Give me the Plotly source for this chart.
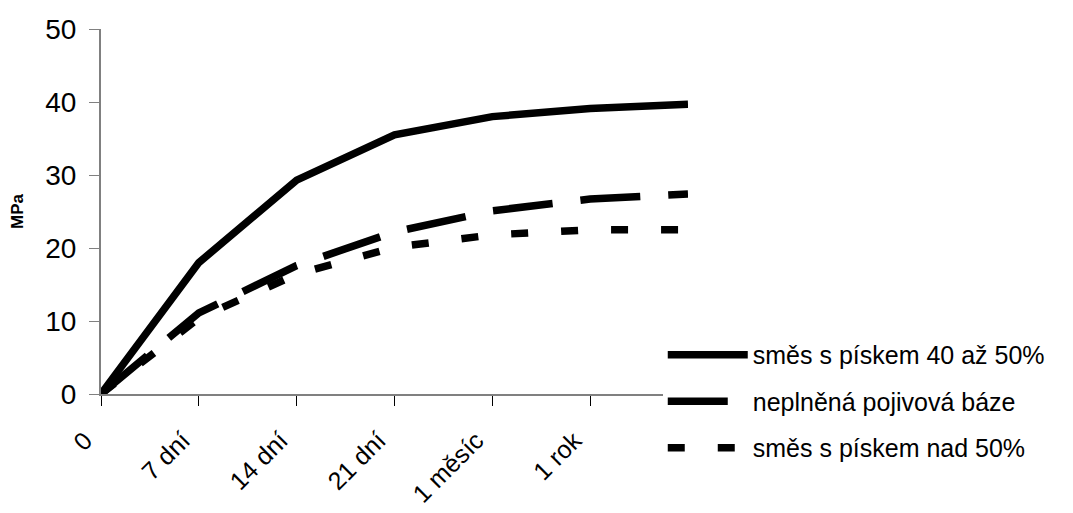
import plotly.graph_objects as go

categories = ["0", "7 dní", "14 dní", "21 dní", "1 měsíc", "1 rok", ""]
series_names = ["směs s pískem 40 až 50%", "neplněná pojivová báze", "směs s pískem nad 50%"]
s_40_50 = [0, 18.0, 29.3, 35.5, 38.0, 39.1, 39.7]
s_neplnena = [0, 11.1, 17.6, 22.2, 25.1, 26.7, 27.4]
s_nad_50 = [0, 10.4, 16.4, 20.1, 21.8, 22.5, 22.5]
y_ticks = [0, 10, 20, 30, 40, 50]

x_idx = list(range(len(categories)))
FONT = "Arial, Liberation Sans, sans-serif"

styles = [
    dict(color="black", width=7.5, dash="solid"),
    dict(color="black", width=7.5, dash="60px,28px"),
    dict(color="black", width=7.5, dash="17px,33px"),
]

fig = go.Figure()
for i, (name, vals) in enumerate(zip(series_names, [s_40_50, s_neplnena, s_nad_50])):
    fig.add_trace(go.Scatter(
        x=x_idx, y=vals, mode="lines", name=name,
        line=styles[i], legendgroup=f"g{i}", hoverinfo="skip",
    ))

fig.update_layout(
    width=1073, height=513,
    margin=dict(l=101, r=385, t=29, b=119, pad=0, autoexpand=False),
    paper_bgcolor="white", plot_bgcolor="white",
    font=dict(family=FONT, color="black"),
    showlegend=True,
    legend=dict(
        x=0.957, xanchor="left", y=0.17, yanchor="top",
        bgcolor="white", borderwidth=0,
        font=dict(size=25, family=FONT, color="black"),
        traceorder="grouped", tracegroupgap=11, itemwidth=80,
    ),
    xaxis=dict(
        range=[0, 6], tickmode="array", tickvals=x_idx, ticktext=categories,
        tickangle=-45, ticks="outside", ticklen=10, tickcolor="black", tickwidth=1,
        showline=True, linecolor="#808080", linewidth=2,
        showgrid=False, zeroline=False, automargin=False,
        tickfont=dict(size=25, family=FONT, color="black"),
        ticklabelstandoff=10, ticklabelshift=-16,
    ),
    yaxis=dict(
        range=[0, 50], tickmode="array", tickvals=y_ticks,
        ticks="outside", ticklen=10, tickcolor="#808080", tickwidth=1,
        showline=True, linecolor="#808080", linewidth=2,
        showgrid=False, zeroline=False, automargin=False,
        tickfont=dict(size=28, family=FONT, color="black"),
        ticklabelstandoff=7,
        title=dict(text="<b>MPa</b>", font=dict(size=17, family=FONT, color="black"), standoff=17),
    ),
)

fig.write_html("out.html", config={"displayModeBar": False})
